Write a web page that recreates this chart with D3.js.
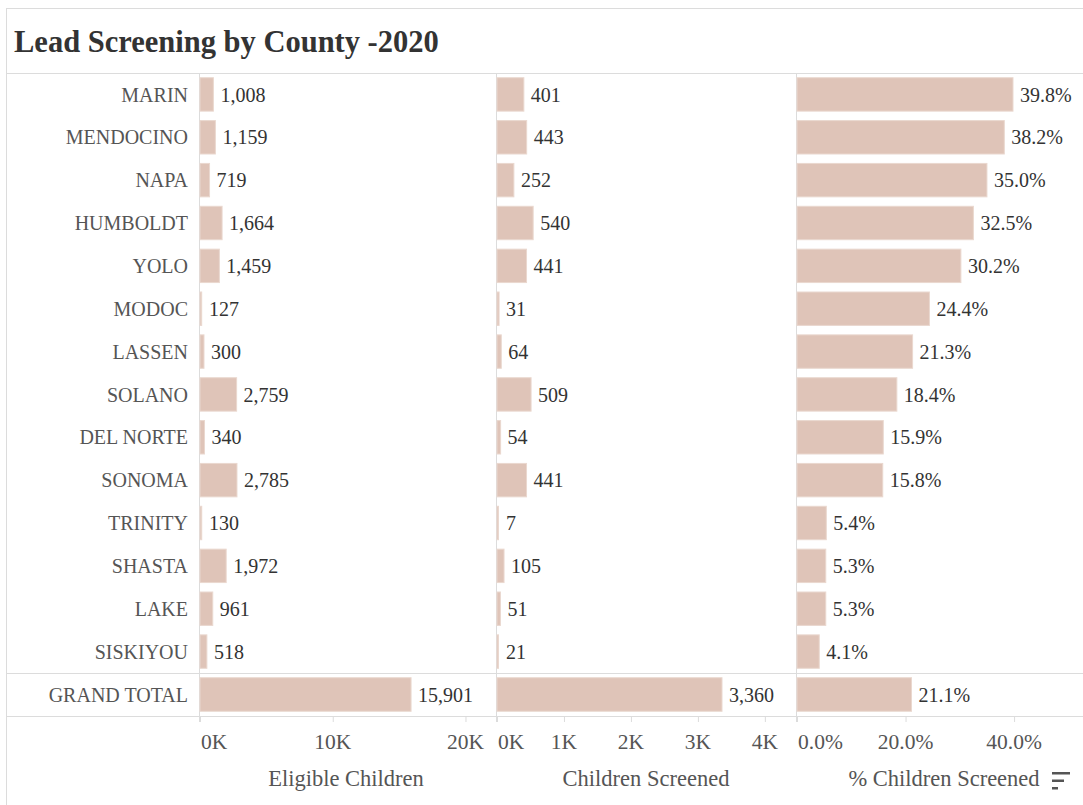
<!DOCTYPE html>
<html>
<head>
<meta charset="utf-8">
<script src="https://cdn.jsdelivr.net/npm/d3@7"></script>
<style>
  body { margin: 0; background: #fff; }
  svg { display: block; font-family: "Liberation Serif", "Times New Roman", serif; }
</style>
</head>
<body>
<div class="vis-bars"></div>
<script>
const counties = ["MARIN", "MENDOCINO", "NAPA", "HUMBOLDT", "YOLO", "MODOC", "LASSEN",
    "SOLANO", "DEL NORTE", "SONOMA", "TRINITY", "SHASTA", "LAKE", "SISKIYOU"];
const eligible = [1008, 1159, 719, 1664, 1459, 127, 300, 2759, 340, 2785, 130, 1972, 961, 518];
const screened = [401, 443, 252, 540, 441, 31, 64, 509, 54, 441, 7, 105, 51, 21];
const pctScreened = [39.8, 38.2, 35.0, 32.5, 30.2, 24.4, 21.3, 18.4, 15.9, 15.8, 5.4, 5.3, 5.3, 4.1];
const totalLabel = "GRAND TOTAL";
const totals = { eligible: 15901, screened: 3360, pct: 21.1 };
const eligibleTicks = [0, 10000, 20000];
const screenedTicks = [0, 1000, 2000, 3000, 4000];
const pctTicks = [0, 20, 40];

const W = 1083, H = 805;
const barColor = "#dfc4b8";
const lineColor = "#dcdcdc";

const svg = d3.select(".vis-bars")
    .append("svg")
    .attr("width", W)
    .attr("height", H);

// frame + title
svg.append("line").attr("x1", 6).attr("x2", W).attr("y1", 8.5).attr("y2", 8.5).attr("stroke", lineColor);
svg.append("line").attr("x1", 6.5).attr("x2", 6.5).attr("y1", 8).attr("y2", H).attr("stroke", lineColor);
svg.append("text")
    .attr("x", 14).attr("y", 52)
    .attr("font-size", 30.5).attr("font-weight", "bold")
    .attr("fill", "#333")
    .text("Lead Screening by County -2020");

// row scales
const y = d3.scaleBand().domain(counties).range([73, 673]).paddingInner(0.22).paddingOuter(0.11);
const yT = d3.scaleBand().domain([totalLabel]).range([673, 716]).paddingInner(0.22).paddingOuter(0.11);

[73, 673, 716].forEach(v => {
    svg.append("line").attr("x1", 6).attr("x2", W).attr("y1", v + 0.5).attr("y2", v + 0.5).attr("stroke", lineColor);
});

// panes
const panes = [
    { values: eligible, total: totals.eligible, x: d3.scaleLinear().domain([0, 22300]).range([200, 496]),
      ticks: eligibleTicks, tickFmt: d => d3.format(",")(d / 1000) + "K", valFmt: d3.format(","),
      title: "Eligible Children", titleX: 346 },
    { values: screened, total: totals.screened, x: d3.scaleLinear().domain([0, 4450]).range([497, 795]),
      ticks: screenedTicks, tickFmt: d => d3.format(",")(d / 1000) + "K", valFmt: d3.format(","),
      title: "Children Screened", titleX: 646 },
    { values: pctScreened, total: totals.pct, x: d3.scaleLinear().domain([0, 52.7]).range([797, 1083]),
      ticks: pctTicks, tickFmt: d => d3.format(".1f")(d) + "%", valFmt: d => d3.format(".1f")(d) + "%",
      title: "% Children Screened", titleX: 944 }
];

// row headers
svg.append("line").attr("x1", 199.5).attr("x2", 199.5).attr("y1", 73).attr("y2", 722).attr("stroke", lineColor);
svg.append("g").selectAll("text")
    .data(counties.concat([totalLabel]))
    .join("text")
    .attr("x", 188)
    .attr("y", d => d === totalLabel ? yT(d) + yT.bandwidth() / 2 : y(d) + y.bandwidth() / 2)
    .attr("dy", "0.36em")
    .attr("text-anchor", "end")
    .attr("font-size", 20)
    .attr("fill", "#555")
    .text(d => d);

panes.forEach(p => {
    const x = p.x;
    const x0 = x.range()[0];
    const g = svg.append("g");
    g.append("line").attr("x1", x0 - 0.5).attr("x2", x0 - 0.5).attr("y1", 73).attr("y2", 722).attr("stroke", lineColor);

    const rows = counties.map((c, i) => ({ c: c, v: p.values[i], yy: y(c), h: y.bandwidth() }));
    rows.push({ c: totalLabel, v: p.total, yy: yT(totalLabel), h: yT.bandwidth() });

    g.selectAll("rect")
        .data(rows)
        .join("rect")
        .attr("x", x0)
        .attr("y", d => d.yy)
        .attr("width", d => Math.max(1.5, x(d.v) - x0))
        .attr("height", d => d.h)
        .attr("fill", barColor)
        .attr("stroke", "#ead8cf")
        .attr("stroke-width", 1);

    g.selectAll("text.val")
        .data(rows)
        .join("text")
        .attr("class", "val")
        .attr("x", d => Math.max(x0 + 2, x(d.v)) + 7)
        .attr("y", d => d.yy + d.h / 2)
        .attr("dy", "0.36em")
        .attr("font-size", 20)
        .attr("fill", "#333")
        .text(d => p.valFmt(d.v));

    // axis
    g.selectAll("line.tick")
        .data(p.ticks)
        .join("line")
        .attr("class", "tick")
        .attr("x1", d => x(d) + 0.5).attr("x2", d => x(d) + 0.5)
        .attr("y1", 716).attr("y2", 722)
        .attr("stroke", lineColor);
    g.selectAll("text.tick")
        .data(p.ticks)
        .join("text")
        .attr("class", "tick")
        .attr("x", (d, i) => i === 0 ? x(d) + 1 : x(d))
        .attr("y", 749)
        .attr("text-anchor", (d, i) => i === 0 ? "start" : "middle")
        .attr("font-size", 21.5)
        .attr("fill", "#555")
        .text(p.tickFmt);
    g.append("text")
        .attr("x", p.titleX)
        .attr("y", 786)
        .attr("text-anchor", "middle")
        .attr("font-size", 22.5)
        .attr("fill", "#555")
        .text(p.title);
});

// sort icon
const sortIcon = svg.append("g").attr("fill", "#555");
[[18, 0], [12, 7.5], [6, 15]].forEach(s => {
    sortIcon.append("rect").attr("x", 1052).attr("y", 772 + s[1]).attr("width", s[0]).attr("height", 2.5);
});
</script>
</body>
</html>
